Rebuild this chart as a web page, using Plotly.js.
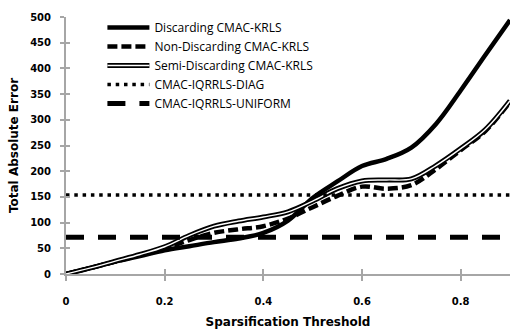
<!DOCTYPE html>
<html>
<head>
<meta charset="utf-8">
<script src="https://cdn.plot.ly/plotly-3.0.1.min.js"></script>
<style>html,body{margin:0;padding:0;background:#fff;}#chart{width:510px;height:329px;}</style>
</head>
<body>
<div id="chart"></div>
<script>
var thresholds = [0, 0.05, 0.1, 0.15, 0.2, 0.25, 0.3, 0.35, 0.4, 0.45, 0.5, 0.55, 0.6, 0.65, 0.7, 0.75, 0.8, 0.85, 0.9];
var discarding = [0, 12, 24, 35, 46, 54, 62, 69, 80, 104, 148, 180, 210, 224, 246, 292, 357, 426, 494];
var nonDiscarding = [0, 12, 24, 37, 50, 66, 80, 87, 93, 108, 130, 152, 170, 166, 173, 204, 241, 278, 335];
var semiDiscarding = [0, 12, 25, 38, 53, 75, 93, 103, 111, 121, 142, 166, 181, 183, 185, 211, 244, 281, 337];
var diagRange = [0, 0.9];
var diagValue = [153.5, 153.5];
var uniformRange = [0, 0.9];
var uniformValue = [71.5, 71.5];
var seriesNames = ['Discarding CMAC-KRLS', 'Non-Discarding CMAC-KRLS', 'Semi-Discarding CMAC-KRLS', 'CMAC-IQRRLS-DIAG', 'CMAC-IQRRLS-UNIFORM'];
var xTicks = [0, 0.2, 0.4, 0.6, 0.8];
var xTickText = ['0', '0.2', '0.4', '0.6', '0.8'];
var yTicks = [0, 50, 100, 150, 200, 250, 300, 350, 400, 450, 500];

var traces = [
  {x: thresholds, y: discarding, name: seriesNames[0], mode: 'lines', line: {color: '#000', width: 4.5, shape: 'spline'}},
  {x: thresholds, y: nonDiscarding, name: seriesNames[1], mode: 'lines', line: {color: '#000', width: 4.5, dash: '10px,4px', shape: 'spline'}},
  {x: thresholds, y: semiDiscarding, name: seriesNames[2], mode: 'lines', line: {color: '#000', width: 5, shape: 'spline'}},
  {x: thresholds, y: semiDiscarding, name: ' ', legend: 'legend2', mode: 'lines', line: {color: '#fff', width: 1.4, shape: 'spline'}},
  {x: diagRange, y: diagValue, name: seriesNames[3], mode: 'lines', line: {color: '#000', width: 3.5, dash: '3.5px,4.8px'}},
  {x: uniformRange, y: uniformValue, name: seriesNames[4], mode: 'lines', line: {color: '#000', width: 5, dash: '18px,14px'}},
  {x: [], y: [], xaxis: 'x2', yaxis: 'y2', showlegend: false, hoverinfo: 'skip'}
];

var legendFont = {family: 'Open Sans, sans-serif', size: 12, color: '#000'};
var titleFont = {family: 'DejaVu Sans, sans-serif', size: 12, color: '#000', weight: 'bold'};
var legendTop = 1.0 + 4 / 257;
var legendLeft = 0.082;
var layout = {
  width: 510, height: 329,
  margin: {l: 66, r: 0, t: 17, b: 55},
  paper_bgcolor: '#fff', plot_bgcolor: '#fff',
  showlegend: true,
  xaxis: {
    range: [0, 0.9], tickvals: xTicks, ticktext: xTickText,
    showgrid: false, zeroline: false, showline: true, linecolor: '#a6a6a6', linewidth: 2,
    ticks: 'outside', ticklen: 5, tickwidth: 2, tickcolor: '#a6a6a6',
    ticklabelstandoff: 12,
    tickfont: {family: 'DejaVu Sans, sans-serif', size: 10, color: '#000', weight: 'bold'},
    title: {text: 'Sparsification Threshold', font: titleFont, standoff: 12}
  },
  yaxis: {
    range: [0, 500], tickvals: yTicks,
    showgrid: false, zeroline: false, showline: true, linecolor: '#a6a6a6', linewidth: 2,
    ticks: 'outside', ticklen: 4, tickwidth: 2, tickcolor: '#a6a6a6',
    ticklabelstandoff: 7,
    tickfont: {family: 'DejaVu Sans, sans-serif', size: 10, color: '#000', weight: 'bold'},
    title: {text: 'Total Absolute Error', font: titleFont, standoff: 9}
  },
  xaxis2: {overlaying: 'x', anchor: 'y', range: [0, 0.9], tickvals: xTicks, showticklabels: false, showgrid: false, zeroline: false, showline: false, ticks: 'inside', ticklen: 5, tickwidth: 2, tickcolor: '#a6a6a6'},
  yaxis2: {overlaying: 'y', anchor: 'x', side: 'left', range: [0, 500], tickvals: yTicks, showticklabels: false, showgrid: false, zeroline: false, showline: false, ticks: 'inside', ticklen: 4, tickwidth: 2, tickcolor: '#a6a6a6'},
  legend: {x: legendLeft, y: legendTop, xanchor: 'left', yanchor: 'top', bgcolor: 'rgba(0,0,0,0)', font: legendFont, itemwidth: 42, tracegroupgap: 0},
  legend2: {x: legendLeft, y: legendTop - 2 * 19 / 257, xanchor: 'left', yanchor: 'top', bgcolor: 'rgba(0,0,0,0)', font: legendFont, itemwidth: 42}
};

Plotly.newPlot('chart', traces, layout, {displayModeBar: false, staticPlot: true});
</script>
</body>
</html>
